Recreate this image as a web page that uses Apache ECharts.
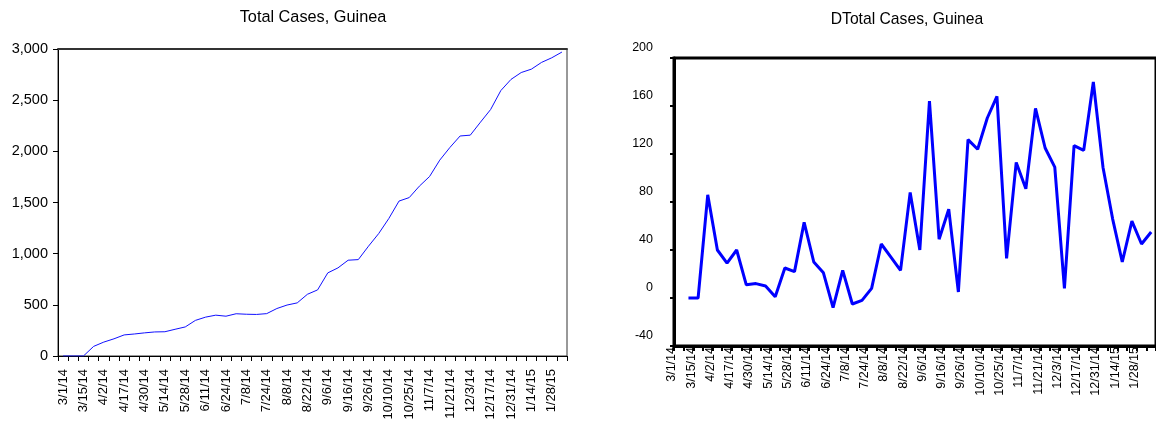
<!DOCTYPE html>
<html>
<head>
<meta charset="utf-8">
<script src="https://cdn.jsdelivr.net/npm/echarts@6/dist/echarts.min.js"></script>
<style>
  html, body { margin: 0; padding: 0; background: #fff; }
  #chart { width: 1156px; height: 424px; }
</style>
</head>
<body>
<div id="chart"></div>
<script>
// Labelled dates (every second observation)
const tickLabels = ['3/1/14', '3/15/14', '4/2/14', '4/17/14', '4/30/14', '5/14/14', '5/28/14',
  '6/11/14', '6/24/14', '7/8/14', '7/24/14', '8/8/14', '8/22/14', '9/6/14', '9/16/14', '9/26/14',
  '10/10/14', '10/25/14', '11/7/14', '11/21/14', '12/3/14', '12/17/14', '12/31/14', '1/14/15', '1/28/15'];

// Cumulative cases, Guinea (50 observations)
const totalCases = [0, 0, 0, 94, 136, 168, 206, 215, 226, 235,
  237, 261, 284, 348, 380, 399, 389, 413, 408, 406,
  414, 464, 498, 519, 603, 646, 812, 861, 936, 942,
  1073, 1196, 1344, 1514, 1548, 1660, 1754, 1914, 2038, 2150,
  2158, 2285, 2409, 2594, 2703, 2770, 2803, 2869, 2914, 2970];

// First difference of cumulative cases (first observation undefined)
const dTotalCases = [null, 0, 0, 86, 40, 29, 40, 11, 12, 10,
  1, 25, 22, 63, 30, 21, -8, 23, -5, -2,
  8, 45, 34, 23, 88, 40, 164, 49, 74, 5,
  132, 124, 150, 168, 33, 113, 91, 158, 125, 109,
  8, 127, 123, 180, 109, 66, 30, 64, 45, 55];

const leftTicks = [0, 500, 1000, 1500, 2000, 2500, 3000];
const rightTicks = [-40, 0, 40, 80, 120, 160, 200];

const FONT = '"Liberation Sans", Arial, sans-serif';
const categories = totalCases.map((_, i) => String(i));
const dateLabel = (v, i) => (i % 2 === 0 ? tickLabels[i / 2] : '');

const chart = echarts.init(document.getElementById('chart'), null, { renderer: 'canvas' });

chart.setOption({
  animation: false,
  backgroundColor: '#ffffff',
  title: [
    { text: 'Total Cases, Guinea', left: 308, top: 5, textAlign: 'center',
      textStyle: { fontFamily: FONT, fontSize: 16.3, fontWeight: 'normal', color: '#000' } },
    { text: 'DTotal Cases, Guinea', left: 902, top: 7, textAlign: 'center',
      textStyle: { fontFamily: FONT, fontSize: 15.7, fontWeight: 'normal', color: '#000' } }
  ],
  grid: [
    { left: 58, top: 49, width: 509, height: 307, show: true,
      borderColor: '#333', borderWidth: 1, backgroundColor: '#fff' },
    { left: 674, top: 58, width: 488, height: 288, show: true,
      borderColor: '#000', borderWidth: 3, backgroundColor: '#fff' }
  ],
  xAxis: [
    { gridIndex: 0, type: 'category', data: categories, boundaryGap: true,
      axisLine: { onZero: false, lineStyle: { color: '#000', width: 1 } },
      axisTick: { show: true, interval: 0, length: 5, lineStyle: { color: '#000', width: 1 } },
      axisLabel: { interval: 0, rotate: 90, margin: 13, formatter: dateLabel,
        fontFamily: FONT, fontSize: 13, color: '#000' },
      splitLine: { show: false } },
    { gridIndex: 0, type: 'category', data: categories, position: 'top',
      axisLine: { onZero: false, lineStyle: { color: '#333', width: 2 } },
      axisTick: { show: false }, axisLabel: { show: false } },
    { gridIndex: 1, type: 'category', data: categories, boundaryGap: true,
      axisLine: { onZero: false, lineStyle: { color: '#000', width: 3 } },
      axisTick: { show: true, interval: 0, length: 5, lineStyle: { color: '#000', width: 2 } },
      axisLabel: { interval: 0, rotate: 90, margin: 1, verticalAlign: 'bottom', lineHeight: 14,
        formatter: dateLabel, fontFamily: FONT, fontSize: 12.5, color: '#000' },
      splitLine: { show: false } }
  ],
  yAxis: [
    { gridIndex: 0, type: 'value', min: leftTicks[0], max: leftTicks[leftTicks.length - 1], interval: 500,
      axisLine: { show: true, onZero: false, lineStyle: { color: '#000', width: 1 } },
      axisTick: { show: true, length: 5, lineStyle: { color: '#000', width: 1 } },
      axisLabel: { margin: 10, fontFamily: FONT, fontSize: 14.5, color: '#000',
        formatter: v => v.toLocaleString('en-US') },
      splitLine: { show: false } },
    { gridIndex: 1, type: 'value', min: rightTicks[0], max: rightTicks[rightTicks.length - 1], interval: 40,
      axisLine: { show: true, onZero: false, lineStyle: { color: '#000', width: 3 } },
      axisTick: { show: true, length: 4, lineStyle: { color: '#000', width: 2 } },
      axisLabel: { margin: 21, verticalAlign: 'bottom', lineHeight: 20,
        fontFamily: FONT, fontSize: 12.5, color: '#000' },
      splitLine: { show: false } }
  ],
  series: [
    { type: 'line', xAxisIndex: 0, yAxisIndex: 0, data: totalCases, symbol: 'none',
      lineStyle: { color: '#1010ff', width: 1 } },
    { type: 'line', xAxisIndex: 2, yAxisIndex: 1, data: dTotalCases, symbol: 'none',
      lineStyle: { color: '#0000ff', width: 3 } }
  ]
});
</script>
</body>
</html>
